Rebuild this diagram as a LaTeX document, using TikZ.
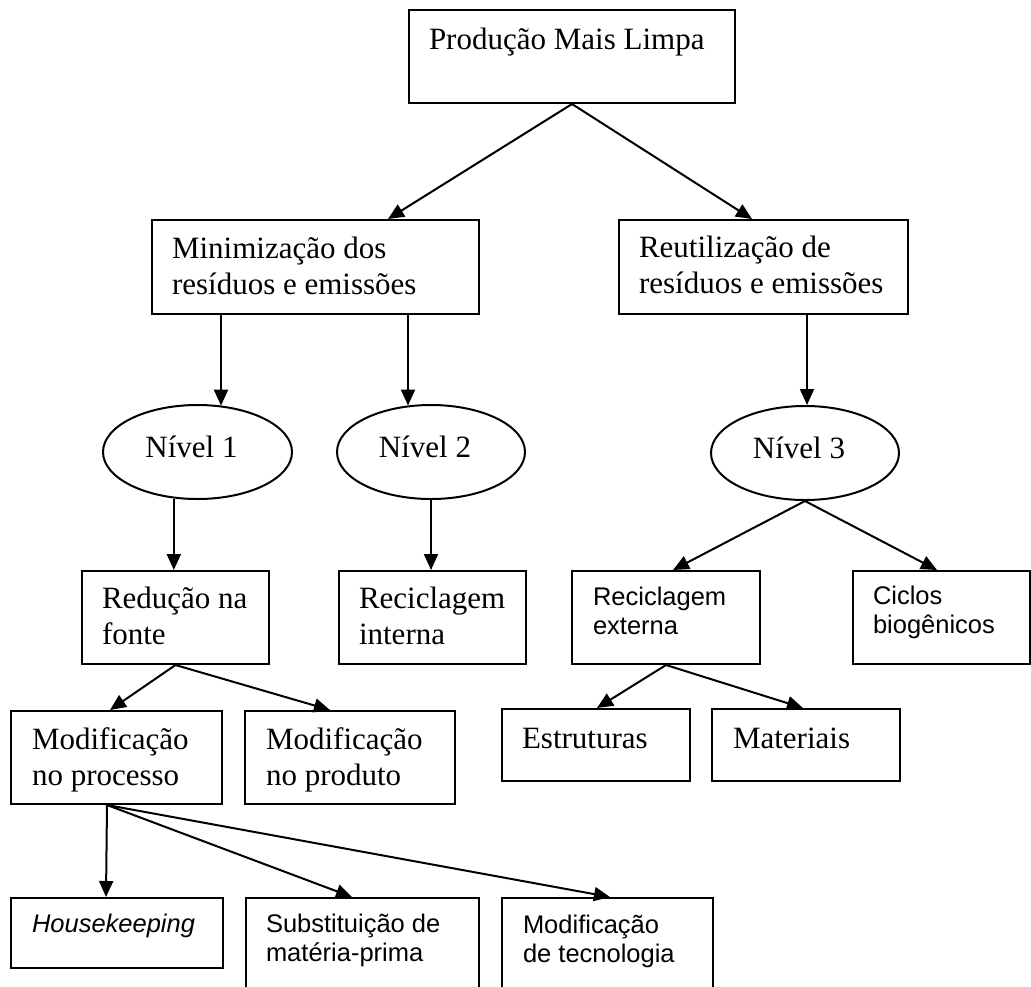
\documentclass[tikz,border=0pt]{standalone}
\usepackage{fontspec}
\setmainfont{Liberation Serif}
\newfontfamily\sansf{Liberation Sans}
\usetikzlibrary{arrows.meta,shapes.geometric}
\newcommand\twoln[2]{\vtop{\hbox{#1}\hbox{#2}}}
\begin{document}
\begin{tikzpicture}[x=1pt,y=-1pt,
  line width=2pt,
  bx/.style={draw, rectangle, inner sep=0pt, anchor=north west},
  ell/.style={draw, ellipse, inner sep=0pt, minimum width=189pt, minimum height=94pt,
    font=\fontsize{31}{36.5}\selectfont, text height=15pt, text depth=5pt},
  ser/.style={inner sep=0pt, anchor=base west, font=\fontsize{31}{36.5}\selectfont},
  san/.style={inner sep=0pt, anchor=base west, font=\sansf\fontsize{25.5}{29.5}\selectfont},
  arr/.style={-{Triangle[length=16pt,width=14pt]}}]
\useasboundingbox (0,0) rectangle (1031,986);
\clip (0,0) rectangle (1031,986);

% boxes
\node[bx, minimum width=326pt, minimum height=93pt] (top) at (408,9) {};
\node[bx, minimum width=327pt, minimum height=94pt] (minim) at (151,219) {};
\node[bx, minimum width=289pt, minimum height=94pt] (reut) at (618,219) {};
\node[bx, minimum width=187pt, minimum height=93pt] (red) at (81,570) {};
\node[bx, minimum width=187pt, minimum height=93pt] (rint) at (338,570) {};
\node[bx, minimum width=188pt, minimum height=93pt] (rext) at (571,570) {};
\node[bx, minimum width=177pt, minimum height=93pt] (cic) at (852,570) {};
\node[bx, minimum width=211pt, minimum height=93pt] (mproc) at (10,710) {};
\node[bx, minimum width=210pt, minimum height=93pt] (mprod) at (244,710) {};
\node[bx, minimum width=188pt, minimum height=72pt] (estr) at (501,708) {};
\node[bx, minimum width=188pt, minimum height=72pt] (mat) at (711,708) {};
\node[bx, minimum width=212pt, minimum height=70pt] (hk) at (10,897) {};
\node[bx, minimum width=233pt, minimum height=100pt] (sub) at (245,897) {};
\node[bx, minimum width=211pt, minimum height=100pt] (mtec) at (501,897) {};

% ellipses
\node[ell] (n1) at (197.5,452) {Nível 1\hspace*{12pt}};
\node[ell, minimum width=188pt] (n2) at (431,452) {Nível 2\hspace*{12pt}};
\node[ell, minimum width=188pt] (n3) at (805,453) {Nível 3\hspace*{12pt}};

% texts
\node[ser] (ttop) at (428,49) {Produção Mais Limpa};
\node[ser] (tminim) at (171,258) {\twoln{Minimização dos}{resíduos e emissões}};
\node[ser] (treut) at (638,257) {\twoln{Reutilização de}{resíduos e emissões}};
\node[ser] (tred) at (101,608) {\twoln{Redução na}{fonte}};
\node[ser] (trint) at (358,608) {\twoln{Reciclagem}{interna}};
\node[san] (trext) at (592,605) {\twoln{Reciclagem}{externa}};
\node[san] (tcic) at (872,604) {\twoln{Ciclos}{biogênicos}};
\node[ser] (tmproc) at (31,749) {\twoln{Modificação}{no processo}};
\node[ser] (tmprod) at (265,749) {\twoln{Modificação}{no produto}};
\node[ser] (testr) at (521,748) {Estruturas};
\node[ser] (tmat) at (732,748) {Materiais};
\node[san] (thk) at (31,932) {\itshape Housekeeping};
\node[san] (tsub) at (265,932) {\twoln{Substituição de}{matéria-prima}};
\node[san] (tmtec) at (522,933) {\twoln{Modificação}{de tecnologia}};

% helper coordinates on box borders
\coordinate (m1) at ([xshift=70pt]minim.south west);
\coordinate (m2) at ([xshift=257pt]minim.south west);
\coordinate (r1) at ([xshift=189pt]reut.south west);
\coordinate (n1o) at (n1.-117);
\coordinate (pp) at ([xshift=97pt]mproc.south west);

% connectors
\draw[arr] (top.south) -- ([xshift=237pt]minim.north west);
\draw[arr] (top.south) -- ([xshift=134pt]reut.north west);
\draw[arr] (m1) -- (m1 |- n1.62.7);
\draw[arr] (m2) -- (m2 |- n2.117.3);
\draw[arr] (r1) -- (r1 |- n3.north);
\draw[arr] (n1o) -- (n1o |- red.north);
\draw[arr] (n2.south) -- (n2.south |- rint.north);
\draw[arr] (n3.south) -- ([xshift=102pt]rext.north west);
\draw[arr] (n3.south) -- ([xshift=85pt]cic.north west);
\draw[arr] (red.south) -- ([xshift=100pt]mproc.north west);
\draw[arr] (red.south) -- ([xshift=86pt]mprod.north west);
\draw[arr] (rext.south) -- ([xshift=96pt]estr.north west);
\draw[arr] (rext.south) -- ([xshift=92pt]mat.north west);
\draw[arr] (pp) -- ([xshift=96pt]hk.north west);
\draw[arr] (pp) -- ([xshift=107pt]sub.north west);
\draw[arr] (pp) -- ([xshift=109pt]mtec.north west);
\end{tikzpicture}
\end{document}
